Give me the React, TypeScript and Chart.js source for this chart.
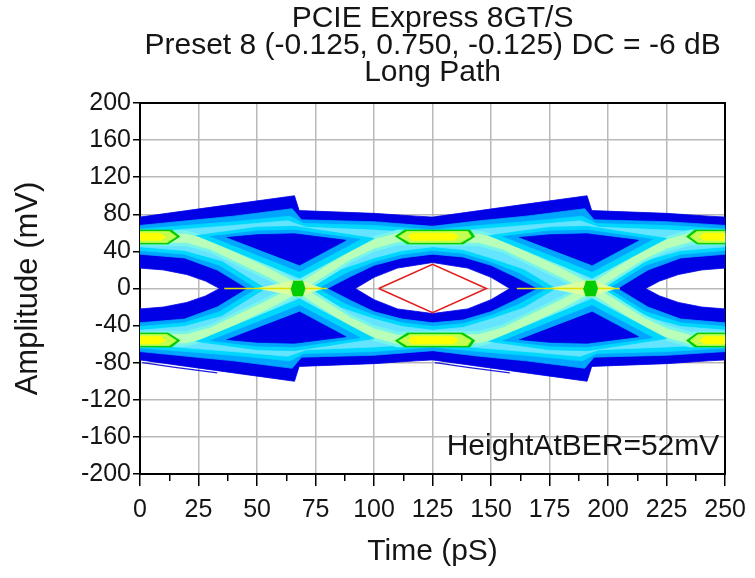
import React, { useEffect, useRef } from 'react';
import { Chart, registerables } from 'chart.js';

Chart.register(...registerables);

// ---------- text ----------
const titleLines = ['PCIE Express 8GT/S', 'Preset 8 (-0.125, 0.750, -0.125) DC = -6 dB', 'Long Path'];
const xTitle = 'Time (pS)';
const yTitle = 'Amplitude (mV)';
const noteText = 'HeightAtBER=52mV';
const noteX = 247.5;
const noteY = -171;

// ---------- axes ----------
const xMin = 0;
const xMax = 250;
const xMajor = 25;
const xMinor = 12.5;
const yMin = -200;
const yMax = 200;
const yStep = 40;

// ---------- eye diagram outlines (time ps, amplitude mV) ----------
const outerTop = [[0,77],[20,84],[40,91],[66,100],[68,84],[100,81],[118,78],[125,77],[145,84],[165,91],[191,100],[193,84],[225,81],[243,78],[250,77]];
const outerBottom = [[0,-77],[20,-84],[40,-91],[66,-100],[68,-84],[100,-81],[118,-78],[125,-77],[145,-84],[165,-91],[191,-100],[193,-84],[225,-81],[243,-78],[250,-77]];
const eyeUpper = [[250,22],[240,20],[230,15],[222,8],[216,0],[158,0],[150,12],[140,22],[125,28],[110,22],[100,12],[92,0],[34,0],[28,8],[20,15],[10,20],[0,22]];
const eyeLower = [[250,-22],[240,-20],[230,-15],[222,-8],[216,0],[158,0],[150,-12],[140,-22],[125,-27],[110,-22],[100,-12],[92,0],[34,0],[28,-8],[20,-15],[10,-20],[0,-22]];

const azureTop = [[0,68],[20,73],[40,78],[65,86],[69,74],[100,72],[125,67],[145,73],[165,78],[190,86],[194,74],[225,72],[250,68]];
const azureBottom = [[0,-68],[20,-73],[40,-78],[65,-86],[69,-74],[100,-72],[125,-67],[145,-73],[165,-78],[190,-86],[194,-74],[225,-72],[250,-68]];
const bandUpper = [[250,37],[231,33],[217,20],[204,0],[170,0],[160,13],[150,25],[138,34],[125,37],[112,33],[100,25],[90,13],[80,0],[46,0],[33,20],[19,33],[0,37]];
const bandLower = [[250,-37],[231,-33],[217,-20],[204,0],[170,0],[160,-13],[150,-25],[138,-34],[125,-37],[112,-33],[100,-25],[90,-13],[80,0],[46,0],[33,-20],[19,-33],[0,-37]];

const cyanTop = [[0,64],[20,68],[40,72],[64,78],[70,70],[100,68],[125,63],[145,68],[165,72],[189,78],[195,70],[225,68],[250,64]];
const cyanBottom = [[0,-64],[20,-68],[40,-72],[64,-78],[70,-70],[100,-68],[125,-63],[145,-68],[165,-72],[189,-78],[195,-70],[225,-68],[250,-64]];
const cyanInnerUpper = [[250,41],[231,37],[216,25],[200,0],[174,0],[162,17],[150,29],[138,38],[125,41],[112,37],[100,29],[88,17],[76,0],[50,0],[34,25],[19,37],[0,41]];
const cyanInnerLower = [[250,-41],[231,-37],[216,-25],[200,0],[174,0],[162,-17],[150,-29],[138,-38],[125,-41],[112,-37],[100,-29],[88,-17],[76,0],[50,0],[34,-25],[19,-37],[0,-41]];

const lightTop = [[0,60],[20,64],[40,68],[63,73],[71,66],[100,63],[125,59],[145,64],[165,68],[188,73],[196,66],[225,63],[250,60]];
const lightBottom = [[0,-60],[20,-64],[40,-68],[63,-73],[71,-66],[100,-63],[125,-59],[145,-64],[165,-68],[188,-73],[196,-66],[225,-63],[250,-60]];
const lightInnerUpper = [[250,45],[231,41],[215,30],[196,0],[178,0],[164,21],[150,33],[138,42],[125,45],[112,41],[100,33],[86,21],[72,0],[54,0],[35,30],[19,41],[0,45]];
const lightInnerLower = [[250,-45],[231,-41],[215,-30],[196,0],[178,0],[164,-21],[150,-33],[138,-42],[125,-45],[112,-41],[100,-33],[86,-21],[72,0],[54,0],[35,-30],[19,-41],[0,-45]];

// transition arms (1 -> 0 -> 1 and 0 -> 1 -> 0)
const armAOuter = [[0,63],[20,62],[30,55],[40,43],[55,25],[67.5,8],[80,-12],[90,-28],[100,-40],[110,-47],[145,-46],[155,-39],[165,-27],[180,-9],[192.5,8],[205,28],[215,44],[225,56],[235,63],[250,63],[250,47],[235,47],[225,40],[215,28],[205,12],[192.5,-8],[180,-25],[165,-43],[155,-55],[145,-62],[110,-63],[100,-56],[90,-44],[80,-28],[67.5,-8],[55,9],[40,27],[30,39],[20,46],[0,47]];
const armBOuter = [[0,-63],[20,-62],[30,-55],[40,-43],[55,-25],[67.5,-8],[80,12],[90,28],[100,40],[110,47],[145,46],[155,39],[165,27],[180,9],[192.5,-8],[205,-28],[215,-44],[225,-56],[235,-63],[250,-63],[250,-47],[235,-47],[225,-40],[215,-28],[205,-12],[192.5,8],[180,25],[165,43],[155,55],[145,62],[110,63],[100,56],[90,44],[80,28],[67.5,8],[55,-9],[40,-27],[30,-39],[20,-46],[0,-47]];
const armACore = [[0,59.5],[20,58.5],[30,51.5],[40,39.5],[55,21.5],[67.5,4.5],[80,-15.5],[90,-31.5],[100,-43.5],[110,-50.5],[145,-49.5],[155,-42.5],[165,-30.5],[180,-12.5],[192.5,4.5],[205,24.5],[215,40.5],[225,52.5],[235,59.5],[250,59.5],[250,50.5],[235,50.5],[225,43.5],[215,31.5],[205,15.5],[192.5,-4.5],[180,-21.5],[165,-39.5],[155,-51.5],[145,-58.5],[110,-59.5],[100,-52.5],[90,-40.5],[80,-24.5],[67.5,-4.5],[55,12.5],[40,30.5],[30,42.5],[20,49.5],[0,50.5]];
const armBCore = [[0,-59.5],[20,-58.5],[30,-51.5],[40,-39.5],[55,-21.5],[67.5,-4.5],[80,15.5],[90,31.5],[100,43.5],[110,50.5],[145,49.5],[155,42.5],[165,30.5],[180,12.5],[192.5,-4.5],[205,-24.5],[215,-40.5],[225,-52.5],[235,-59.5],[250,-59.5],[250,-50.5],[235,-50.5],[225,-43.5],[215,-31.5],[205,-15.5],[192.5,4.5],[180,21.5],[165,39.5],[155,51.5],[145,58.5],[110,59.5],[100,52.5],[90,40.5],[80,24.5],[67.5,4.5],[55,-12.5],[40,-30.5],[30,-42.5],[20,-49.5],[0,-50.5]];

// dark regions between rails and crossings (with halos)
const tri1UpCyan = [[24,57],[50,66],[66,67],[100,54],[68,11]];
const tri1UpAzure = [[30,56],[50,62],[66,63],[94,53],[68,18]];
const tri1UpCore = [[37,55],[50,58],[66,59],[88,52],[68,25]];
const tri1DnCyan = [[24,-57],[50,-66],[66,-67],[100,-54],[68,-11]];
const tri1DnAzure = [[30,-56],[50,-62],[66,-63],[94,-53],[68,-18]];
const tri1DnCore = [[37,-55],[50,-58],[66,-59],[88,-52],[68,-25]];
const tri2UpCyan = [[149,57],[175,66],[191,67],[225,54],[193,11]];
const tri2UpAzure = [[155,56],[175,62],[191,63],[219,53],[193,18]];
const tri2UpCore = [[162,55],[175,58],[191,59],[213,52],[193,25]];
const tri2DnCyan = [[149,-57],[175,-66],[191,-67],[225,-54],[193,-11]];
const tri2DnAzure = [[155,-56],[175,-62],[191,-63],[219,-53],[193,-18]];
const tri2DnCore = [[162,-55],[175,-58],[191,-59],[213,-52],[193,-25]];

// crossing glows
const cross1Glow = [[50,0],[67.5,9],[78,0],[67.5,-9]];
const cross2Glow = [[175,0],[192.5,9],[203,0],[192.5,-9]];
const cross1Mark = [[65.5,8],[69.5,8],[70.5,0],[69.5,-8],[65.5,-8],[64.5,0]];
const cross2Mark = [[190.5,8],[194.5,8],[195.5,0],[194.5,-8],[190.5,-8],[189.5,0]];
const cross1Line = [[36,0],[80,0]];
const cross2Line = [[161,0],[205,0]];

// density peaks on the rails
const blobUL = [[0,48],[12,48],[17,56],[13.5,63],[0,63]];
const blobULMid = [[0,49.5],[11.5,49.5],[15.5,56],[12.5,61.5],[0,61.5]];
const blobULCore = [[0,52],[9,52],[11,56],[8,59.5],[0,59.5]];
const blobLL = [[0,-48],[12,-48],[17,-56],[13.5,-63],[0,-63]];
const blobLLMid = [[0,-49.5],[11.5,-49.5],[15.5,-56],[12.5,-61.5],[0,-61.5]];
const blobLLCore = [[0,-52],[9,-52],[11,-56],[8,-59.5],[0,-59.5]];
const blobUC = [[109,56],[113,63],[141,63],[143,56],[138,48],[114,48]];
const blobUCMid = [[110.5,56],[114,61.5],[140,61.5],[141.5,56],[137,49.5],[115,49.5]];
const blobUCCore = [[114.5,56],[116.5,59.5],[134,59.5],[136,56],[134,52],[116,52]];
const blobLC = [[109,-56],[113,-63],[141,-63],[143,-56],[138,-48],[114,-48]];
const blobLCMid = [[110.5,-56],[114,-61.5],[140,-61.5],[141.5,-56],[137,-49.5],[115,-49.5]];
const blobLCCore = [[114.5,-56],[116.5,-59.5],[134,-59.5],[136,-56],[134,-52],[116,-52]];
const blobUR = [[250,48],[238,48],[233.5,56],[237,63],[250,63]];
const blobURMid = [[250,49.5],[238.5,49.5],[235,56],[238,61.5],[250,61.5]];
const blobURCore = [[250,52],[241,52],[239,56],[241.5,59.5],[250,59.5]];
const blobLR = [[250,-48],[238,-48],[233.5,-56],[237,-63],[250,-63]];
const blobLRMid = [[250,-49.5],[238.5,-49.5],[235,-56],[238,-61.5],[250,-61.5]];
const blobLRCore = [[250,-52],[241,-52],[239,-56],[241.5,-59.5],[250,-59.5]];

// stray traces under the lower rail
const strayLow1 = [[1,-80],[15,-85],[33,-91]];
const strayLow2 = [[126,-80],[140,-85],[158,-91]];

// eye mask (HeightAtBER)
const maskDiamond = [[102,0],[125,26],[148,0],[125,-26],[102,0]];

// ---------- colours ----------
const BLUE = 'rgb(0,0,230)';
const AZURE = 'rgb(0,165,255)';
const CYAN = 'rgb(0,215,255)';
const LCYAN = 'rgb(100,228,255)';
const ARM = 'rgb(120,245,232)';
const PALE = 'rgb(185,255,185)';
const GLOW = 'rgb(220,255,160)';
const GREEN = 'rgb(0,205,0)';
const YGREEN = 'rgb(195,255,80)';
const YELLOW = 'rgb(255,255,0)';
const FONT = '"Liberation Sans", Arial, Helvetica, sans-serif';

const toXY = (pts: number[][]) => pts.map(([x, y]) => ({ x, y }));

function area(pts: number[][], color: string) {
  return {
    type: 'line',
    data: toXY(pts),
    xAxisID: 'x',
    yAxisID: 'y',
    backgroundColor: color,
    borderColor: color,
    borderWidth: 0.8,
    pointRadius: 0,
    tension: 0,
    fill: 'shape',
  };
}

function trace(pts: number[][], color: string, width: number) {
  return {
    type: 'line',
    data: toXY(pts),
    xAxisID: 'x',
    yAxisID: 'y',
    borderColor: color,
    backgroundColor: color,
    borderWidth: width,
    pointRadius: 0,
    tension: 0,
    fill: false,
  };
}

const notePlugin = {
  id: 'heightNote',
  afterDatasetsDraw(chart: any) {
    const { ctx, scales } = chart;
    ctx.save();
    ctx.font = `30px ${FONT}`;
    ctx.fillStyle = '#151515';
    ctx.textAlign = 'right';
    ctx.textBaseline = 'middle';
    ctx.fillText(noteText, scales.x.getPixelForValue(noteX), scales.y.getPixelForValue(noteY));
    ctx.restore();
  },
};

export default function App() {
  const ref = useRef<HTMLCanvasElement>(null);

  useEffect(() => {
    const canvas = ref.current;
    if (!canvas) return;

    const layers = [
      area([...outerTop, ...eyeUpper], BLUE),
      area([...outerBottom, ...eyeLower], BLUE),
      area([...azureTop, ...bandUpper], AZURE),
      area([...azureBottom, ...bandLower], AZURE),
      area([...cyanTop, ...cyanInnerUpper], CYAN),
      area([...cyanBottom, ...cyanInnerLower], CYAN),
      area([...lightTop, ...lightInnerUpper], LCYAN),
      area([...lightBottom, ...lightInnerLower], LCYAN),
      area(armAOuter, ARM),
      area(armBOuter, ARM),
      area(armACore, PALE),
      area(armBCore, PALE),
      area(cross1Glow, GLOW),
      area(cross2Glow, GLOW),
      area(tri1UpCyan, CYAN), area(tri1UpAzure, AZURE), area(tri1UpCore, BLUE),
      area(tri1DnCyan, CYAN), area(tri1DnAzure, AZURE), area(tri1DnCore, BLUE),
      area(tri2UpCyan, CYAN), area(tri2UpAzure, AZURE), area(tri2UpCore, BLUE),
      area(tri2DnCyan, CYAN), area(tri2DnAzure, AZURE), area(tri2DnCore, BLUE),
      area(blobUL, GREEN), area(blobULMid, YGREEN), area(blobULCore, YELLOW),
      area(blobLL, GREEN), area(blobLLMid, YGREEN), area(blobLLCore, YELLOW),
      area(blobUC, GREEN), area(blobUCMid, YGREEN), area(blobUCCore, YELLOW),
      area(blobLC, GREEN), area(blobLCMid, YGREEN), area(blobLCCore, YELLOW),
      area(blobUR, GREEN), area(blobURMid, YGREEN), area(blobURCore, YELLOW),
      area(blobLR, GREEN), area(blobLRMid, YGREEN), area(blobLRCore, YELLOW),
      trace(cross1Line, 'rgb(225,225,0)', 1.3),
      trace(cross2Line, 'rgb(225,225,0)', 1.3),
      area(cross1Mark, GREEN),
      area(cross2Mark, GREEN),
      trace(strayLow1, 'rgb(30,30,220)', 1.3),
      trace(strayLow2, 'rgb(30,30,220)', 1.3),
      trace(maskDiamond, 'rgb(228,30,30)', 1.6),
    ];
    // Chart.js paints dataset 0 last, so reverse to keep bottom-to-top order
    const datasets = layers.slice().reverse();

    const isMajorX = (v: number) => Math.abs(v / xMajor - Math.round(v / xMajor)) < 1e-6;

    const borderOnly = (position: string, size: number) => ({
      type: 'linear',
      position,
      display: true,
      weight: -1,
      z: 1,
      ticks: { display: false },
      grid: { drawOnChartArea: false, drawTicks: false },
      border: { display: true, color: '#000', width: 2 },
      afterFit: (s: any) => {
        if (position === 'top' || position === 'bottom') s.height = size;
        else s.width = size;
      },
    });

    const chart = new Chart(canvas, {
      type: 'line',
      data: { datasets } as any,
      options: {
        responsive: false,
        animation: false,
        devicePixelRatio: 1,
        events: [],
        layout: { padding: 0 },
        plugins: {
          legend: { display: false },
          tooltip: { enabled: false },
          title: {
            display: true,
            text: titleLines,
            fullSize: false,
            color: '#151515',
            font: { family: FONT, size: 30, weight: 'normal', lineHeight: 27 / 30 },
            padding: { top: 5, bottom: 17 },
          },
        },
        scales: {
          x: {
            type: 'linear',
            position: 'bottom',
            min: xMin,
            max: xMax,
            ticks: {
              stepSize: xMinor,
              autoSkip: false,
              maxRotation: 0,
              minRotation: 0,
              color: '#151515',
              padding: 9,
              font: { family: FONT, size: 25 },
              callback: (v: any) => (isMajorX(Number(v)) ? String(v) : ''),
            },
            grid: {
              color: (c: any) => (c.tick && isMajorX(c.tick.value) ? '#b9b9b9' : 'rgba(0,0,0,0)'),
              lineWidth: 1.5,
              tickColor: '#000',
              tickWidth: 1.5,
              tickLength: 12,
              tickBorderDash: (c: any) => (c.tick && isMajorX(c.tick.value) ? [] : [6, 40]),
            },
            border: { display: true, color: '#000', width: 2 },
            title: {
              display: true,
              text: xTitle,
              color: '#151515',
              font: { family: FONT, size: 30 },
              padding: { top: 0, bottom: 8 },
            },
            afterFit: (s: any) => { s.height = 104; },
          },
          y: {
            type: 'linear',
            position: 'left',
            min: yMin,
            max: yMax,
            ticks: {
              stepSize: yStep,
              color: '#151515',
              padding: 2,
              font: { family: FONT, size: 25 },
            },
            grid: {
              color: '#b9b9b9',
              lineWidth: 1.5,
              tickColor: '#000',
              tickWidth: 1.5,
              tickLength: 7,
            },
            border: { display: true, color: '#000', width: 2 },
            title: {
              display: true,
              text: yTitle,
              color: '#151515',
              font: { family: FONT, size: 31 },
              padding: { top: 10, bottom: 0 },
            },
            afterFit: (s: any) => { s.width = 140; },
          },
          xb: borderOnly('bottom', 0),
          yb: borderOnly('left', 0),
          x2: borderOnly('top', 0),
          y2: borderOnly('right', 27),
        } as any,
      },
      plugins: [notePlugin],
    } as any);

    return () => chart.destroy();
  }, []);

  return (
    <div style={{ position: 'fixed', left: 0, top: 0, width: 755, height: 578, background: '#fff' }}>
      <canvas ref={ref} width={755} height={578} style={{ display: 'block' }} />
    </div>
  );
}
